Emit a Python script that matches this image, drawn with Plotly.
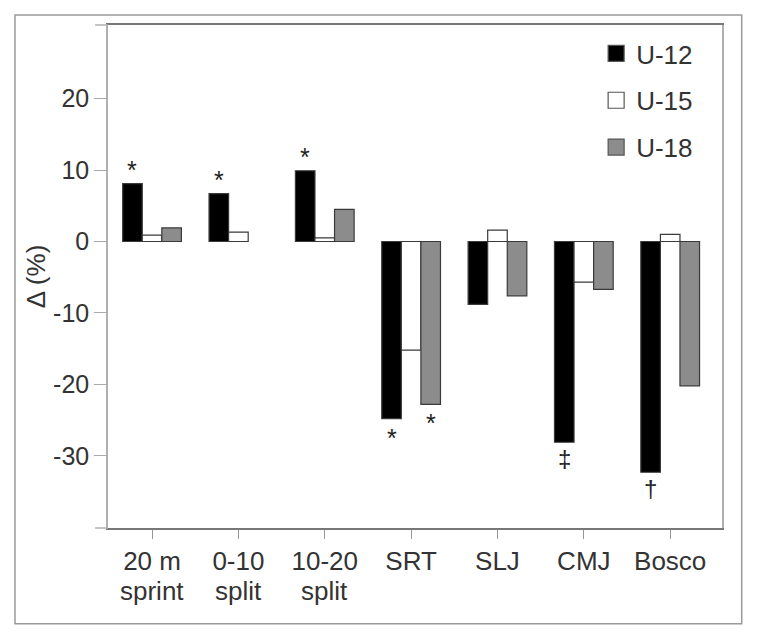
import plotly.graph_objects as go

# data (% change)
tests = ["20 m", "0-10", "10-20", "SRT", "SLJ", "CMJ", "Bosco"]
tests_sub = ["sprint", "split", "split", "", "", "", ""]
groups = ["U-12", "U-15", "U-18"]
u12 = [8.1, 6.7, 9.9, -24.8, -8.8, -28.1, -32.3]
u15 = [0.9, 1.3, 0.5, -15.2, 1.6, -5.7, 1.0]
u18 = [1.9, None, 4.5, -22.8, -7.6, -6.7, -20.2]
yticks = [-30, -20, -10, 0, 10, 20]
ylabels = ["-30", "-20", "-10", "0", "10", "20"]

# significance marks: (test index, group index, symbol)
marks = [(0, 0, "*"), (1, 0, "*"), (2, 0, "*"), (3, 0, "*"), (3, 2, "*"), (5, 0, "\u2021"), (6, 0, "\u2020")]

fills = ["#000000", "#ffffff", "#8c8c8c"]
series = [u12, u15, u18]
bargap = 0.32
xs = list(range(len(tests)))

fig = go.Figure()
for name, vals, col in zip(groups, series, fills):
    fig.add_trace(go.Bar(x=xs, y=vals, name=name, marker_color=col,
                         marker_line_color="#3a3a3a", marker_line_width=1.2,
                         showlegend=False))
    # legend-only entries so the swatches can be bigger
    fig.add_trace(go.Scatter(x=[None], y=[None], mode="markers", name=name, legendgroup=name,
                             marker=dict(symbol="square", size=18, color=col,
                                         line=dict(color="#555555", width=1.2))))

step = (1 - bargap) / 3
for ti, gi, sym in marks:
    v = series[gi][ti]
    up = v > 0
    fig.add_annotation(x=ti + (gi - 1) * step, y=v, text=sym, showarrow=False,
                       yanchor="bottom" if up else "top",
                       yshift=-2 if up else (-3 if sym == "*" else -1),
                       font=dict(family="Liberation Sans, Arial", size=25 if sym == "*" else 24,
                                 color="#222222"))

# second line of the tick labels
for xi, sub in zip(xs, tests_sub):
    if sub:
        fig.add_annotation(x=xi, y=0, xref="x", yref="paper", text=sub, showarrow=False,
                           yanchor="middle", yshift=-63, font=dict(size=26, color="#333333"))

# outer frame and the small overhangs of the box lines
fig.add_shape(type="rect", xref="paper", yref="paper", x0=-0.1515, x1=1.0321, y0=-0.1902, y1=1.0199,
              line=dict(color="#9a9a9a", width=1.5))
for yy in [0, 1]:
    fig.add_shape(type="line", xref="paper", yref="paper", x0=-0.021, x1=0, y0=yy, y1=yy,
                  line=dict(color="#b0b0b0", width=1.5))

fig.update_layout(
    width=758, height=640,
    margin=dict(l=100, r=44, t=17, b=120),
    barmode="group", bargap=bargap, bargroupgap=0,
    plot_bgcolor="white", paper_bgcolor="white",
    font=dict(family="Liberation Sans, Arial, sans-serif", size=25, color="#333333"),
    legend=dict(x=0.795, xanchor="left", y=0.99, yanchor="top", tracegroupgap=10,
                font=dict(size=26, color="#333333"), bgcolor="rgba(0,0,0,0)"),
    xaxis=dict(tickvals=xs, ticktext=tests, range=[-0.51, 6.6],
               showline=True, linecolor="#777777", linewidth=1.5, mirror=True,
               ticks="outside", ticklen=9, tickcolor="#999999", showgrid=False, zeroline=False,
               tickfont=dict(size=26)),
    yaxis=dict(range=[-40.1, 30.3], tickvals=yticks, ticktext=ylabels,
               showline=True, linecolor="#b0b0b0", linewidth=1.5, mirror=True,
               ticks="outside", ticklen=12, tickcolor="#aaaaaa", showgrid=False, zeroline=False,
               tickfont=dict(size=25),
               title=dict(text="\u0394 (%)", standoff=0, font=dict(size=26))),
)

fig.write_html("out.html")
